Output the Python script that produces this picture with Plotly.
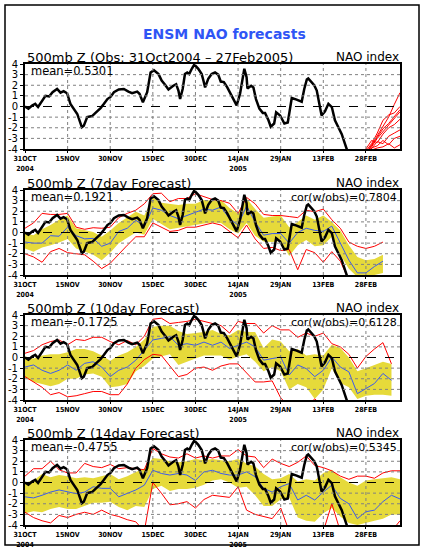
import plotly.graph_objects as go
from plotly.subplots import make_subplots

W, H = 425, 550

# x axis is days since 31 Oct 2004
tick_days = [0, 15, 30, 45, 60, 75, 90, 105, 120]
tick_text = ["31OCT<br>2004", "15NOV", "30NOV", "15DEC", "30DEC",
             "14JAN<br>2005", "29JAN", "13FEB", "28FEB"]
y_ticks = [4, 3, 2, 1, 0, -1, -2, -3, -4]
y_text = ["4", "3", "2", "1", "0", "-1", "-2", "-3", "-4"]

obs_day = [0, 1.2, 2.5, 3.6, 4.6, 6, 7.2, 8.5, 9.7, 11.3, 12.5, 13.6, 14.8, 16, 17, 18.4,
           20, 20.7, 21.9, 23.6, 25, 26.6, 27.8, 29, 30.1, 31.3, 33, 34.8, 36.4, 37.7,
           39.5, 40.3, 41.5, 43, 44.2, 45.4, 47, 48.1, 49.3, 50.5, 52.2, 53.2, 54, 54.6,
           55.5, 56.3, 57.1, 57.8, 58.7, 59.6, 61, 62.2, 62.8, 63.4, 64.5, 65.7, 66.9, 68,
           68.9, 70, 71.2, 72.8, 74.5, 75.7, 76.6, 77.2, 78, 78.3, 79.6, 80.4, 81.3, 82.5,
           83.7, 84.5, 85.7, 86.5, 87.7, 88.4, 89.8, 91.3, 92.5, 93.3, 93.9, 95.6, 97.4,
           98.3, 99.2, 99.7, 100.7, 101.8, 102.7, 103.3, 104.4, 105.6, 106.8, 108, 109.1,
           110.3, 111.5, 112.6, 113.2, 114]
obs_nao = [0, -0.2, 0.1, 0.25, -0.05, 0.55, 1.0, 0.95, 1.35, 1.65, 1.3, 1.45, 1.25, 0.25,
           -0.15, -0.7, -1.95, -1.8, -1.0, -0.9, -0.55, -0.15, 0.25, 0.7, 0.9, 1.35, 1.6,
           1.65, 1.4, 1.25, 1.4, 1.2, 0.4, 1.35, 3.2, 3.4, 3.05, 2.45, 2.05, 1.6, 1.95, 2.1,
           1.5, 0.7, 1.65, 3.05, 3.2, 3.05, 3.55, 3.95, 3.55, 3.05, 2.45, 1.8, 2.6, 3.05,
           3.2, 3.0, 2.35, 2.3, 1.8, 1.0, 0.1, 1.2, 2.9, 3.55, 2.75, 1.7, 1.95, 1.8, 0.7,
           -0.2, -0.6, -0.6, -1.3, -1.9, -1.6, -0.55, -0.85, -1.6, -1.5, -0.2, 0.8, 0.65,
           0.45, 1.65, 2.55, 2.65, 2.3, 2.0, 1.5, 0.7, -0.85, -0.45, 0.25, -0.05, -1.3,
           -1.95, -2.6, -3.5, -4.0, -4.6]

# ensemble members issued at end of obs (top panel)
ens_day = [120, 122, 124, 126, 128, 130, 132]
ens_1 = [-4.5, -3.6, -2.8, -1.9, -1.0, 0.2, 1.3]
ens_2 = [-4.2, -3.5, -2.5, -1.3, -0.8, -0.6, 0.0]
ens_3 = [-4.4, -3.8, -3.0, -2.4, -1.8, -1.2, -0.5]
ens_4 = [-4.0, -3.2, -3.4, -2.6, -2.0, -1.7, -1.2]
ens_5 = [-4.6, -4.0, -3.3, -3.5, -2.8, -2.5, -2.2]
ens_6 = [-4.5, -3.9, -3.7, -3.2, -3.6, -3.0, -2.8]
ens_7 = [-4.8, -4.1, -3.9, -3.8, -3.5, -3.9, -3.6]
ens_8 = [-4.3, -3.7, -2.9, -2.1, -1.6, -0.9, -0.3]

# forecast verification dates (every 3 days)
fc_day = [0, 3, 6, 9, 12, 15, 18, 21, 24, 27, 30, 33, 36, 39, 42, 45, 48, 51, 54, 57,
          60, 63, 66, 69, 72, 75, 78, 81, 84, 87, 90, 93, 96, 99, 102, 105, 108, 111,
          114, 117, 120, 123, 126, 129, 132]

# 7 day forecast
d7_mean = [-0.9, -1.0, -1.0, -0.3, -0.35, 0.5, -0.3, -0.6, -0.55, -1.3, -1.0, 0.1, 0.4,
           1.15, 0.6, 2.3, 2.1, 1.6, 1.3, 1.6, 1.85, 2.2, 2.1, 2.4, 1.3, 0.7, 2.5, 1.0,
           -0.25, -0.1, -0.1, -1.0, 0.0, 0.4, 0.2, 0.1, 0.6, -1.05, -2.6, -3.8, -3.8,
           -3.2, -2.7]
d7_hi = [-0.1, -0.25, 0.3, 0.7, 1.2, 1.6, 0.4, 0.2, 0.05, -0.4, 0.2, 0.9, 1.4, 1.95, 1.6,
         3.3, 2.8, 2.7, 2.6, 2.7, 2.7, 3.05, 3.0, 3.05, 2.3, 1.8, 3.2, 2.2, 1.4, 1.5, 1.6,
         0.5, 1.0, 1.6, 1.2, 1.6, 1.0, 0.2, -1.2, -2.3, -2.6, -2.5, -2.1]
d7_lo = [-1.5, -1.8, -1.4, -1.2, -0.95, -0.6, -1.5, -1.8, -2.1, -2.6, -1.9, -1.0, -0.5,
         0.0, -0.2, 1.3, 0.8, 0.3, 0.45, 0.6, 0.7, 0.85, 0.95, 0.9, 0.3, -0.1, 0.9, -0.3,
         -0.85, -0.9, -0.8, -2.2, -1.2, -0.7, -1.3, -1.2, -0.4, -2.1, -3.4, -4.2, -4.2,
         -4.0, -3.8]
d7_max = [0.4, 0.9, 1.8, 1.7, 1.7, 1.8, 0.5, 0.3, 0.45, 0.4, 0.5, 1.4, 1.8, 2.1, 2.7,
          3.65, 3.7, 2.9, 3.2, 3.2, 3.65, 3.4, 3.1, 3.0, 2.75, 1.8, 3.3, 2.7, 1.7, 1.6,
          1.6, 1.5, 1.4, 2.1, 1.95, 2.2, 1.2, 0.4, -0.9, -1.3, -1.5, -1.3, -0.9]
d7_min = [-2.0, -2.3, -2.8, -1.8, -1.5, -1.9, -2.0, -2.1, -2.7, -3.4, -2.9, -2.0, -1.2,
          -0.4, -0.4, 0.9, 0.5, 0.1, 0.2, 0.5, 0.5, 0.7, 0.9, 0.7, 0.1, -0.5, 0.7, -0.6,
          -1.5, -1.4, -1.7, -1.6, -3.5, -1.6, -1.9, -2.8, -1.8, -2.7, -4.5, -4.6, -4.6,
          -4.6, -4.6]

# 10 day forecast
d10_mean = [-0.9, -0.7, -1.2, -1.5, -1.2, -0.7, -1.2, -0.55, -0.4, -0.9, -1.8, -1.2, -0.9,
            -0.25, 0.7, 1.65, 1.8, 1.95, 1.15, 1.3, 1.15, 1.45, 1.15, 1.45, 0.85, 1.15,
            1.45, 1.0, -0.25, -0.1, 0.05, -1.65, -0.7, -1.05, -1.8, -1.2, 0.05, -0.9,
            -1.35, -3.4, -2.9, -2.45, -1.5, -2.15]
d10_hi = [0.1, -0.1, 0.2, 0.3, 0.3, 0.5, 0.8, 0.8, 0.6, 0.2, -0.3, 0.2, 0.5, 1.0, 1.7,
          2.9, 3.0, 3.0, 2.5, 2.2, 2.3, 2.4, 2.6, 2.2, 2.1, 2.6, 2.4, 2.4, 0.9, 1.7, 1.5,
          0.6, 0.8, 0.2, 0.3, 0.2, 1.2, 0.9, 0.0, -1.3, -1.0, -0.7, -0.4, -0.6]
d10_lo = [-1.9, -2.3, -2.5, -2.7, -2.5, -2.0, -2.0, -1.6, -1.5, -1.8, -2.8, -2.7, -2.5,
          -1.3, -0.8, -0.1, 0.1, 0.3, -0.7, -0.4, -0.1, 0.2, 0.2, 0.2, -0.2, 0.1, 0.3,
          -0.4, -1.3, -0.9, -1.3, -3.0, -2.5, -2.8, -3.9, -3.0, -1.0, -2.4, -2.8, -3.9,
          -3.6, -3.5, -3.5, -3.6]
d10_max = [0.4, 0.65, 1.2, 1.5, 1.65, 1.2, 1.7, 1.6, 1.9, 1.9, 1.5, 1.2, 1.6, 1.2, 2.0,
           3.6, 3.7, 3.2, 3.3, 3.4, 3.6, 3.4, 3.2, 3.0, 2.3, 3.4, 3.2, 3.2, 2.3, 3.0, 2.6,
           2.6, 1.9, 2.3, 2.0, 2.3, 1.3, 1.0, 0.3, -1.0, 0.1, 0.8, 1.4, -0.6]
d10_min = [-1.8, -2.3, -2.8, -3.5, -3.3, -3.7, -3.6, -3.4, -3.2, -3.2, -3.5, -3.5, -2.5,
           -1.0, -0.2, 0.3, 0.2, -0.8, -1.8, -1.6, -1.0, -0.9, -1.2, -0.8, -0.6, -0.6,
           -1.5, -2.3, -2.3, -2.2, -3.8, -4.6, -4.6, -4.6, -3.9, -4.6, -4.6, -4.6, -4.6,
           -4.6, -4.6, -4.6, -4.6, -4.6]

# 14 day forecast
d14_mean = [-1.35, -1.45, -1.2, -0.9, -0.7, -0.9, -1.05, -0.9, -0.4, -0.55, -0.55, -1.35,
            -1.05, -0.7, -0.25, 1.15, 0.85, 0.7, 0.85, 0.7, 0.2, 1.0, 1.15, 0.85, 0.7, 0.7,
            1.0, 0.55, -0.55, -0.9, -0.4, -0.1, -1.65, -1.2, -1.65, -0.9, -0.25, -1.5,
            -2.0, -3.4, -2.75, -2.6, -1.8, -1.2, -1.55]
d14_hi = [0.0, 0.2, 0.8, 0.5, 0.7, 0.6, 0.4, 0.5, 0.4, 0.6, 0.8, 0.3, 0.6, 1.0, 1.3, 2.3,
          2.2, 2.0, 1.9, 2.0, 2.2, 2.1, 2.2, 2.1, 2.0, 2.2, 1.8, 1.5, 0.8, 0.3, 0.4, 0.8,
          0.1, 0.3, 0.2, 0.9, 1.2, 0.5, 0.0, -0.3, 0.2, 0.3, 0.4, 0.5, 0.3]
d14_lo = [-2.9, -2.7, -2.8, -2.5, -2.3, -2.5, -2.5, -2.2, -1.9, -1.9, -1.8, -2.3, -2.6,
          -2.2, -2.3, -0.6, -0.3, -0.8, -0.6, -0.6, -0.5, -0.2, 0.2, 0.3, 0.0, -0.5, -0.4,
          -1.2, -2.2, -2.2, -1.6, -1.4, -3.3, -3.6, -3.7, -2.9, -2.4, -3.2, -3.8, -4.0,
          -3.8, -3.6, -3.4, -3.0, -3.0]
d14_max = [0.6, 1.3, 1.3, 2.0, 1.2, 0.9, 0.9, 1.8, 1.5, 1.4, 1.7, 1.3, 1.4, 1.3, 1.2, 3.2,
           2.7, 2.4, 2.3, 2.7, 2.3, 2.5, 2.3, 2.5, 2.5, 3.1, 2.5, 2.4, 1.4, 2.2, 1.8, 1.5,
           1.9, 2.5, 1.6, 1.4, 1.1, 0.6, 0.3, 0.6, 0.6, 0.4, 0.9, 1.1, 1.1]
d14_min = [-2.8, -3.3, -3.6, -3.8, -3.1, -3.3, -3.0, -2.8, -3.0, -2.6, -3.0, -3.2, -3.5,
           -3.7, -4.6, 0.0, -1.0, -2.1, -2.0, -1.8, -2.4, -1.6, -1.2, -1.3, -1.4, -0.4,
           -2.6, -3.0, -3.2, -3.4, -2.4, -4.6, -4.6, -4.6, -4.6, -4.6, -2.0, -4.6, -4.6,
           -4.6, -4.6, -4.6, -4.6, -4.6, -3.6]

subtitles = ["500mb Z (Obs: 31Oct2004 \u2013 27Feb2005)", "500mb Z (7day Forecast)",
             "500mb Z (10day Forecast)", "500mb Z (14day Forecast)"]
mean_text = ["mean=0.5301", "mean=0.1921", "mean=-0.1725", "mean=-0.4755"]
cor_text = [None, "cor(w/obs)=0.7804", "cor(w/obs)=0.6128", "cor(w/obs)=0.5345"]

BAND = "#E6DA3A"
BLUE = "#3A5AF0"
RED = "#FF0000"
FONT = "DejaVu Sans"

panel_top = [64, 190, 315, 440]
panel_h = 85
x_left, x_right = 25, 400


def line(x, y, color, width):
    return go.Scatter(x=x, y=y, mode="lines", line=dict(color=color, width=width),
                      showlegend=False, hoverinfo="skip")


fig = make_subplots(rows=4, cols=1)

# top panel: obs + ensemble members
for m in [ens_1, ens_2, ens_3, ens_4, ens_5, ens_6, ens_7, ens_8]:
    fig.add_trace(line(ens_day, m, RED, 1), row=1, col=1)
fig.add_trace(line(obs_day, obs_nao, "black", 2.5), row=1, col=1)

forecasts = [(d7_mean, d7_hi, d7_lo, d7_max, d7_min),
             (d10_mean, d10_hi, d10_lo, d10_max, d10_min),
             (d14_mean, d14_hi, d14_lo, d14_max, d14_min)]

for r, (mean, hi, lo, mx, mn) in enumerate(forecasts, start=2):
    xs = fc_day[:len(mean)]
    fig.add_trace(go.Scatter(x=xs + xs[::-1], y=hi + lo[::-1], fill="toself",
                             fillcolor=BAND, mode="lines", line=dict(width=0),
                             showlegend=False, hoverinfo="skip"), row=r, col=1)
    fig.add_trace(line(xs, mx, RED, 1), row=r, col=1)
    fig.add_trace(line(xs, mn, RED, 1), row=r, col=1)
    fig.add_trace(line(xs, mean, BLUE, 1), row=r, col=1)
    fig.add_trace(line(obs_day, obs_nao, "black", 2.5), row=r, col=1)

# dotted grid drawn over the shading
for v in [3, 2, 1, -1, -2, -3]:
    fig.add_hline(y=v, line=dict(color="#808080", width=1, dash="dot"), layer="above",
                  row="all", col=1)
for d in tick_days[1:]:
    fig.add_vline(x=d, line=dict(color="#808080", width=1, dash="dot"), layer="above",
                  row="all", col=1)
fig.add_hline(y=0, line=dict(color="black", width=1, dash="dash"), layer="above",
              row="all", col=1)

for i, top in enumerate(panel_top, start=1):
    fig.update_yaxes(domain=[1 - (top + panel_h) / H, 1 - top / H], row=i, col=1)
    fig.add_annotation(xref="paper", yref="paper", x=x_left / W, y=1 - (top - 7) / H,
                       text=subtitles[i - 1], showarrow=False, xanchor="left",
                       yanchor="middle", font=dict(family=FONT, size=13, color="black"))
    fig.add_annotation(xref="paper", yref="paper", x=(x_right + 1) / W, y=1 - (top - 7) / H,
                       text="NAO index", showarrow=False, xanchor="right",
                       yanchor="middle", font=dict(family=FONT, size=12, color="black"))
    fig.add_annotation(xref="paper", yref="paper", x=(x_left + 4) / W, y=1 - (top + 7) / H,
                       text=mean_text[i - 1], showarrow=False, xanchor="left",
                       yanchor="middle", font=dict(family=FONT, size=11.5, color="black"))
    if cor_text[i - 1]:
        fig.add_annotation(xref="paper", yref="paper", x=(x_right - 1) / W,
                           y=1 - (top + 7) / H, text=cor_text[i - 1], showarrow=False,
                           xanchor="right", yanchor="middle",
                           font=dict(family=FONT, size=11, color="black"))

fig.update_xaxes(domain=[x_left / W, x_right / W], range=[0, 132], tickvals=tick_days,
                 ticktext=tick_text, showgrid=False, zeroline=False, showline=True,
                 mirror=True, linecolor="black", linewidth=2, ticks="outside", ticklen=2,
                 tickcolor="black",
                 tickfont=dict(family="DejaVu Sans Condensed", size=7, color="black",
                               weight="bold"),
                 automargin=False)
fig.update_yaxes(range=[-4, 4], tickvals=y_ticks, ticktext=y_text, showgrid=False,
                 zeroline=False, showline=True, mirror=True, linecolor="black",
                 linewidth=2, ticks="outside", ticklen=3, tickcolor="black",
                 tickfont=dict(family=FONT, size=10, color="black"), automargin=False)

fig.add_annotation(xref="paper", yref="paper", x=224.5 / W, y=1 - 34 / H,
                   text="<b>ENSM NAO forecasts</b>", showarrow=False, xanchor="center",
                   yanchor="middle", font=dict(family=FONT, size=14, color="#2F55F5"))

# outer frame
fig.add_shape(type="rect", xref="paper", yref="paper", x0=5 / W, x1=419 / W,
              y0=1 - 545 / H, y1=1 - 5 / H, line=dict(color="black", width=1.5))

fig.update_layout(width=W, height=H, margin=dict(l=0, r=0, t=0, b=0),
                  paper_bgcolor="white", plot_bgcolor="white", template="none",
                  showlegend=False, font=dict(family=FONT))

# page body margin would shift the figure, so drop it
fig.write_html("out.html", config={"displayModeBar": False},
               post_script="document.body.style.margin='0';")
